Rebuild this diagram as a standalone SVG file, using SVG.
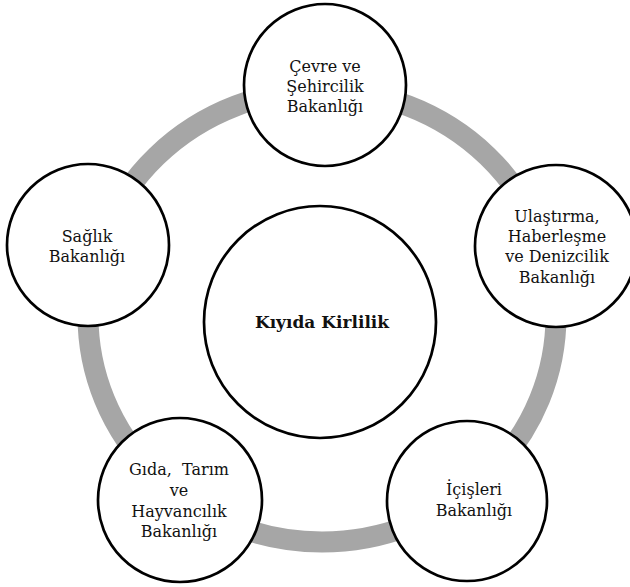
<svg xmlns="http://www.w3.org/2000/svg" width="630" height="587" viewBox="0 0 630 587">
<style>
.node{fill:#fff;stroke:#000;stroke-width:2.7}
.t{font-family:"DejaVu Serif","Liberation Serif",serif;font-size:16px;fill:#111;text-anchor:middle;white-space:pre}
.tb{font-family:"DejaVu Serif","Liberation Serif",serif;font-size:17px;font-weight:bold;fill:#111;text-anchor:middle}
.ring{fill:none;stroke:#a6a6a6;stroke-width:21}
</style>
<rect width="630" height="587" fill="#fff"/>
<g id="connectors">
<ellipse class="ring" cx="322" cy="316" rx="234" ry="226"/>
</g>
<g id="center">
<circle class="node" cx="320" cy="322" r="116"/>
<text class="tb" x="322" y="328">Kıyıda Kirlilik</text>
</g>
<g id="cevre">
<circle class="node" cx="325" cy="85" r="81"/>
<text class="t" x="325" y="72">Çevre ve</text>
<text class="t" x="325" y="92">Şehircilik</text>
<text class="t" x="325" y="112">Bakanlığı</text>
</g>
<g id="ulastirma">
<circle class="node" cx="556" cy="246" r="81"/>
<text class="t" x="557" y="222">Ulaştırma,</text>
<text class="t" x="557" y="242">Haberleşme</text>
<text class="t" x="557" y="262">ve Denizcilik</text>
<text class="t" x="557" y="283">Bakanlığı</text>
</g>
<g id="icisleri">
<circle class="node" cx="467" cy="501" r="80"/>
<text class="t" x="474" y="495">İçişleri</text>
<text class="t" x="474" y="516">Bakanlığı</text>
</g>
<g id="gida">
<circle class="node" cx="180" cy="500" r="82"/>
<text class="t" x="179" y="475">Gıda,  Tarım</text>
<text class="t" x="179" y="496">ve</text>
<text class="t" x="179" y="517">Hayvancılık</text>
<text class="t" x="179" y="537">Bakanlığı</text>
</g>
<g id="saglik">
<circle class="node" cx="88" cy="245" r="81"/>
<text class="t" x="87" y="242">Sağlık</text>
<text class="t" x="87" y="262">Bakanlığı</text>
</g>
</svg>
